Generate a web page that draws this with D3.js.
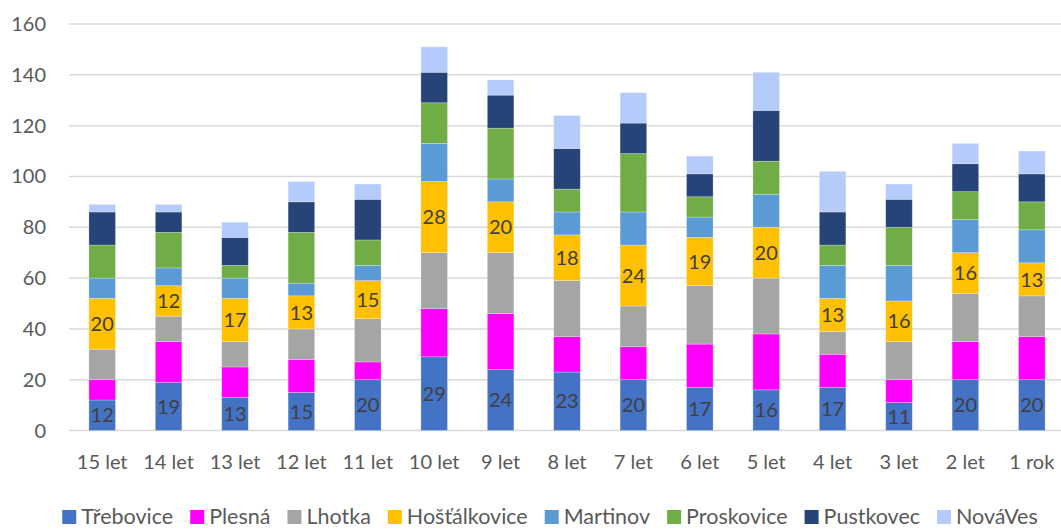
<!DOCTYPE html>
<html>
<head>
<meta charset="utf-8">
<script src="https://cdn.jsdelivr.net/npm/d3@7"></script>
<style>
  html, body { margin: 0; padding: 0; background: #fff; }
  svg { display: block; font-family: Lato, "Open Sans", sans-serif; }
</style>
</head>
<body>
<svg id="chart" width="1061" height="530"></svg>
<script>
'use strict'

const ages = ['15 let', '14 let', '13 let', '12 let', '11 let', '10 let', '9 let', '8 let',
              '7 let', '6 let', '5 let', '4 let', '3 let', '2 let', '1 rok']
const districts = ['Třebovice', 'Plesná', 'Lhotka', 'Hošťálkovice', 'Martinov', 'Proskovice', 'Pustkovec', 'NováVes']
const colors = ['#4472c4', '#ff00ff', '#a5a5a5', '#ffc000', '#5b9bd5', '#70ad47', '#264478', '#b4cbfc']

// values per district, same order as ages
const trebovice    = [12, 19, 13, 15, 20, 29, 24, 23, 20, 17, 16, 17, 11, 20, 20]
const plesna       = [ 8, 16, 12, 13,  7, 19, 22, 14, 13, 17, 22, 13,  9, 15, 17]
const lhotka       = [12, 10, 10, 12, 17, 22, 24, 22, 16, 23, 22,  9, 15, 19, 16]
const hostalkovice = [20, 12, 17, 13, 15, 28, 20, 18, 24, 19, 20, 13, 16, 16, 13]
const martinov     = [ 8,  7,  8,  5,  6, 15,  9,  9, 13,  8, 13, 13, 14, 13, 13]
const proskovice   = [13, 14,  5, 20, 10, 16, 20,  9, 23,  8, 13,  8, 15, 11, 11]
const pustkovec    = [13,  8, 11, 12, 16, 12, 13, 16, 12,  9, 20, 13, 11, 11, 11]
const novaves      = [ 3,  3,  6,  8,  6, 10,  6, 13, 12,  7, 15, 16,  6,  8,  9]
const yTicks = [0, 20, 40, 60, 80, 100, 120, 140, 160]
const labelled = ['Třebovice', 'Hošťálkovice'] // series with data labels

const series_values = [trebovice, plesna, lhotka, hostalkovice, martinov, proskovice, pustkovec, novaves]

const rows = ages.map((a, i) => {
  const r = { age: a }
  districts.forEach((d, j) => r[d] = series_values[j][i])
  return r
})

const stacked = d3.stack().keys(districts)(rows)

const svg = d3.select('#chart')
const W = 1061

const x = d3.scaleBand()
  .domain(ages)
  .range([69, 1065])
  .paddingInner(0.6)
  .paddingOuter(0.3)

const y = d3.scaleLinear()
  .domain([0, 160])
  .range([430.5, 24])

const color = d3.scaleOrdinal().domain(districts).range(colors)

// gridlines
svg.append('g')
  .selectAll('line')
  .data(yTicks)
  .join('line')
    .attr('x1', 69)
    .attr('x2', W)
    .attr('y1', d => y(d))
    .attr('y2', d => y(d))
    .attr('stroke', '#d9d9d9')
    .attr('stroke-width', 1.5)

// y axis labels
svg.append('g')
  .selectAll('text')
  .data(yTicks)
  .join('text')
    .attr('x', 46)
    .attr('y', d => y(d))
    .attr('dy', '0.35em')
    .attr('text-anchor', 'end')
    .attr('fill', '#595959')
    .style('font-size', '20px')
    .text(d => d)

// x axis labels
svg.append('g')
  .selectAll('text')
  .data(ages)
  .join('text')
    .attr('x', d => x(d) + x.bandwidth() / 2)
    .attr('y', 469)
    .attr('text-anchor', 'middle')
    .attr('fill', '#595959')
    .style('font-size', '20px')
    .text(d => d)

// bars
const layers = svg.append('g')
  .selectAll('g')
  .data(stacked)
  .join('g')
    .attr('fill', d => color(d.key))

layers.selectAll('rect')
  .data(d => d)
  .join('rect')
    .attr('x', d => x(d.data.age))
    .attr('width', x.bandwidth())
    .attr('y', d => y(d[1]))
    .attr('height', d => y(d[0]) - y(d[1]))
    .attr('stroke', '#ffffff')
    .attr('stroke-opacity', 0.35)
    .attr('stroke-width', 0.7)

// data labels
svg.append('g')
  .selectAll('g')
  .data(stacked.filter(s => labelled.includes(s.key)))
  .join('g')
  .selectAll('text')
  .data(d => d)
  .join('text')
    .attr('x', d => x(d.data.age) + x.bandwidth() / 2)
    .attr('y', d => (y(d[0]) + y(d[1])) / 2)
    .attr('dy', '0.36em')
    .attr('text-anchor', 'middle')
    .attr('fill', '#404040')
    .style('font-size', '20px')
    .text(d => d[1] - d[0])

// legend
const legend = svg.append('g').attr('transform', 'translate(0,516)')
const items = legend.selectAll('g')
  .data(districts)
  .join('g')

items.append('rect')
  .attr('width', 14)
  .attr('height', 14)
  .attr('y', -6)
  .attr('fill', d => color(d))

items.append('text')
  .attr('x', 19)
  .attr('dy', '0.38em')
  .attr('fill', '#595959')
  .style('font-size', '21.5px')
  .text(d => d)

let pos = 0
const gap = 17
items.each(function() {
  const w = 19 + d3.select(this).select('text').node().getComputedTextLength()
  d3.select(this).attr('data-x', pos)
  pos += w + gap
})
const total = pos - gap
const start = 550 - total / 2
items.attr('transform', function() {
  return `translate(${start + (+this.getAttribute('data-x'))},0)`
})
</script>
</body>
</html>
